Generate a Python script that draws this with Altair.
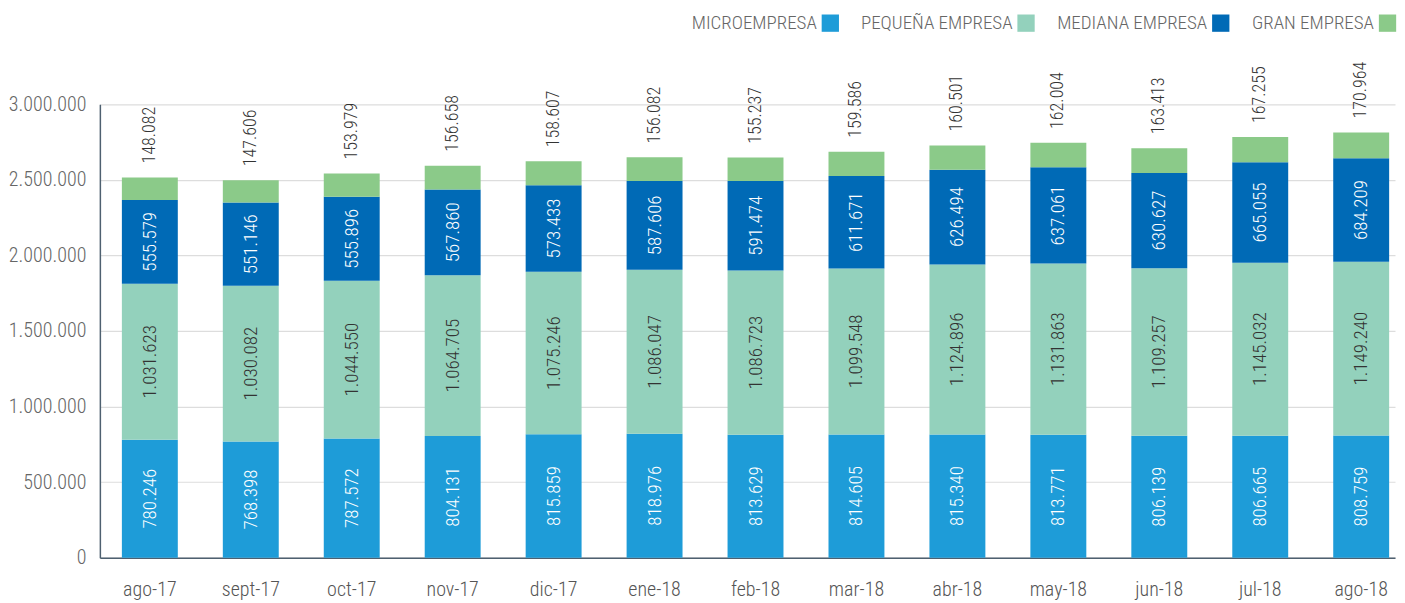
import altair as alt
import pandas as pd

meses = ["ago-17", "sept-17", "oct-17", "nov-17", "dic-17", "ene-18", "feb-18",
         "mar-18", "abr-18", "may-18", "jun-18", "jul-18", "ago-18"]
segmentos = ["MICROEMPRESA", "PEQUEÑA EMPRESA", "MEDIANA EMPRESA", "GRAN EMPRESA"]
colores = ["#1E9CD8", "#93D1BC", "#006AB6", "#8BCA89"]
colores_texto = ["#FFFFFF", "#333333", "#FFFFFF", "#333333"]

micro = [780246, 768398, 787572, 804131, 815859, 818976, 813629, 814605, 815340, 813771, 806139, 806665, 808759]
pequena = [1031623, 1030082, 1044550, 1064705, 1075246, 1086047, 1086723, 1099548, 1124896, 1131863, 1109257, 1145032, 1149240]
mediana = [555579, 551146, 555896, 567860, 573433, 587606, 591474, 611671, 626494, 637061, 630627, 665055, 684209]
gran = [148082, 147606, 153979, 156658, 158607, 156082, 155237, 159586, 160501, 162004, 163413, 167255, 170964]

series = [micro, pequena, mediana, gran]
rows = []
for si, (seg, vals) in enumerate(zip(segmentos, series)):
    for mi, (mes, v) in enumerate(zip(meses, vals)):
        rows.append({"mes": mes, "segmento": seg, "orden": si, "valor": v,
                     "tc": colores_texto[si]})
df = pd.DataFrame(rows)

FONT = "Roboto Condensed, Liberation Sans Narrow, DejaVu Sans Condensed, sans-serif"

base = alt.Chart(df).transform_stack(
    stack="valor", groupby=["mes"], as_=["y0", "y1"],
    sort=[alt.SortField("orden", order="ascending")]
).transform_calculate(mid="(datum.y0 + datum.y1) / 2")

xenc = alt.X("mes:N", sort=meses, title=None,
             scale=alt.Scale(paddingInner=0.446, paddingOuter=0.138, align=0.79),
             axis=alt.Axis(labelAngle=0, labelFontSize=20, labelFontWeight=300,
                           labelColor="#555555",
                           labelFont=FONT, labelPadding=22, ticks=False,
                           domainColor="#4E6070", domainWidth=1.5, grid=False))
yscale = alt.Scale(domain=[0, 3000000], nice=False)

bars = base.mark_bar().encode(
    x=xenc,
    y=alt.Y("y0:Q", scale=yscale, title=None,
            axis=alt.Axis(values=[0, 500000, 1000000, 1500000, 2000000, 2500000, 3000000],
                          format=",d", labelFontSize=20, labelFontWeight=300,
                          labelColor="#666666",
                          labelFont=FONT, ticks=False, labelPadding=14,
                          domainColor="#4E6070", domainWidth=1.5,
                          gridColor="#DDDDDD", gridWidth=1.2)),
    y2="y1:Q",
    color=alt.Color("segmento:N", scale=alt.Scale(domain=segmentos, range=colores),
                    legend=alt.Legend(title=None, orient="none", direction="horizontal",
                                      legendX=722, legendY=-91,
                                      symbolType="square", symbolSize=300,
                                      symbolStrokeWidth=0, symbolOpacity=1,
                                      labelFontSize=19, labelFontWeight=300,
                                      labelColor="#666666",
                                      labelFont=FONT, labelAlign="right",
                                      labelOffset={"expr": "-23"}, columnPadding=21)),
)

inner = base.transform_filter("datum.orden < 3").mark_text(
    angle=270, align="center", baseline="middle", fontSize=19, fontWeight=300, font=FONT
).encode(
    x=alt.X("mes:N", sort=meses),
    y=alt.Y("mid:Q", scale=yscale),
    text=alt.Text("valor:Q", format=",d"),
    color=alt.Color("tc:N", scale=None),
)

top = base.transform_filter("datum.orden == 3").mark_text(
    angle=270, align="left", baseline="middle", fontSize=18, fontWeight=300, font=FONT,
    dx=14, color="#333333"
).encode(
    x=alt.X("mes:N", sort=meses),
    y=alt.Y("y1:Q", scale=yscale),
    text=alt.Text("valor:Q", format=",d"),
)

chart = alt.layer(bars, inner, top).properties(
    width=1297, height=454,
    padding={"left": 0, "top": 5, "right": 0, "bottom": 0},
).configure(
    locale={"number": {"decimal": ",", "thousands": ".", "grouping": [3],
                       "currency": ["", "€"]}},
    font=FONT,
).configure_view(stroke=None)

chart.save("out.html", embed_options={"renderer": "svg", "actions": False})
